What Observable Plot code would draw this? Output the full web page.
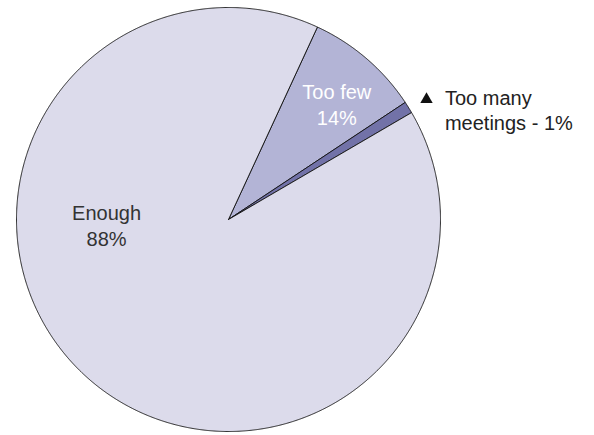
<!DOCTYPE html>
<html><head><meta charset="utf-8">
<script src="https://cdn.jsdelivr.net/npm/d3@7"></script>
<script src="https://cdn.jsdelivr.net/npm/@observablehq/plot@0.6"></script>
<style>body{margin:0;background:#fff} svg{display:block}</style>
</head><body><div id="chart"></div>
<script>
// Slices in drawing order (clockwise from the "Too few" edge)
const categories = ["Too few", "Too many meetings", "Enough"];
const shares = [8.8, 0.9, 90.3];            // share of the circle as drawn, %
const labelTexts = ["Too few\n14%", "Too many\nmeetings - 1%", "Enough\n88%"];
const colors = ["#b3b4d6", "#7272a8", "#dcdbeb"];
const startDeg = 24.8;

const a0 = startDeg * Math.PI / 180;
const arcs = d3.pie().sort(null).startAngle(a0).endAngle(a0 + 2 * Math.PI)(shares);
const outline = [];
arcs.forEach((s, i) => {
  const cat = categories[i];
  outline.push({cat, x: 0, y: 0});
  const n = Math.max(2, Math.ceil((s.endAngle - s.startAngle) / (Math.PI / 720)));
  for (let k = 0; k <= n; k++) {
    const a = s.startAngle + (s.endAngle - s.startAngle) * k / n;
    outline.push({cat, x: Math.sin(a), y: Math.cos(a)});
  }
  outline.push({cat, x: 0, y: 0});
});

const font = "'Liberation Sans', Arial, Helvetica, sans-serif";
const chart = Plot.plot({
  width: 594,
  height: 435,
  marginLeft: 16,
  marginRight: 154,
  marginTop: 7,
  marginBottom: 4,
  x: {domain: [-1, 1], axis: null},
  y: {domain: [-1, 1], axis: null},
  color: {domain: categories, range: colors},
  style: {fontFamily: font, background: "white"},
  marks: [
    Plot.line(outline, {x: "x", y: "y", z: "cat", fill: "cat", stroke: "#111", strokeWidth: 0.9, strokeLinejoin: "round", curve: "linear"}),
    Plot.text([labelTexts[2]], {x: -0.575, y: -0.025, text: d => d, fontSize: 20, lineHeight: 1.28, fill: "#333"}),
    Plot.text([labelTexts[0]], {x: 0.511, y: 0.546, text: d => d, fontSize: 20, lineHeight: 1.3, fill: "white"}),
    Plot.text([labelTexts[1]], {x: 1.021, y: 0.52, text: d => d, fontSize: 20, lineHeight: 1.25, fill: "#222", textAnchor: "start"}),
    Plot.dot([categories[1]], {x: 0.934, y: 0.566, symbol: "triangle", r: 4.6, fill: "#111", stroke: "none"})
  ]
});
document.getElementById("chart").appendChild(chart);
</script>
</body></html>
